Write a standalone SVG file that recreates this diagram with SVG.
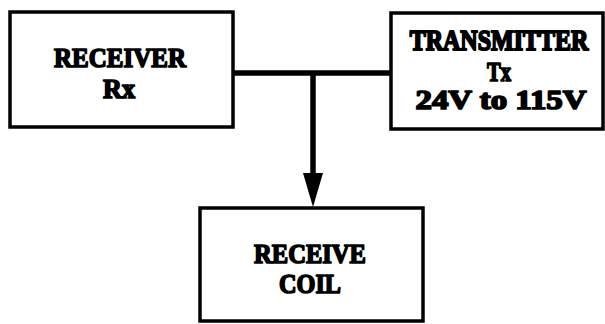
<svg xmlns="http://www.w3.org/2000/svg" width="605" height="324" viewBox="0 0 605 324">
  <style>
    .box { fill: #ffffff; stroke: #000000; stroke-width: 3.5; }
    .lbl { font-family: "Liberation Serif", serif; font-weight: bold; font-size: 28px; fill: #000000; stroke: #000000; stroke-width: 1.7; stroke-linejoin: round; text-anchor: middle; }
    .wire { fill: none; stroke: #000000; stroke-width: 5.5; }
    .head { fill: #000000; }
  </style>
  <rect width="605" height="324" fill="#ffffff"/>
  <g id="connectors">
    <line class="wire" x1="233" y1="73" x2="391" y2="73"/>
    <line class="wire" x1="313" y1="73" x2="313" y2="180"/>
    <path class="head" d="M303,173 L323,173 L313,207 Z"/>
  </g>
  <g id="receiver">
    <rect class="box" x="10" y="12" width="223" height="115"/>
    <text class="lbl" x="120" y="67" textLength="132" lengthAdjust="spacingAndGlyphs">RECEIVER</text>
    <text class="lbl" x="119" y="98" textLength="32" lengthAdjust="spacingAndGlyphs">Rx</text>
  </g>
  <g id="transmitter">
    <rect class="box" x="391" y="13" width="212" height="116"/>
    <text class="lbl" transform="translate(499,50) scale(1,1.2)" x="0" y="0" style="font-size:24px">TRANSMITTER</text>
    <text class="lbl" x="499" y="81" textLength="24" lengthAdjust="spacingAndGlyphs">Tx</text>
    <text class="lbl" x="501" y="109" textLength="171" lengthAdjust="spacingAndGlyphs">24V to 115V</text>
  </g>
  <g id="receive-coil">
    <rect class="box" x="200" y="208" width="223" height="113"/>
    <text class="lbl" x="310" y="263" textLength="112" lengthAdjust="spacingAndGlyphs">RECEIVE</text>
    <text class="lbl" x="310" y="293" textLength="62" lengthAdjust="spacingAndGlyphs">COIL</text>
  </g>
</svg>
